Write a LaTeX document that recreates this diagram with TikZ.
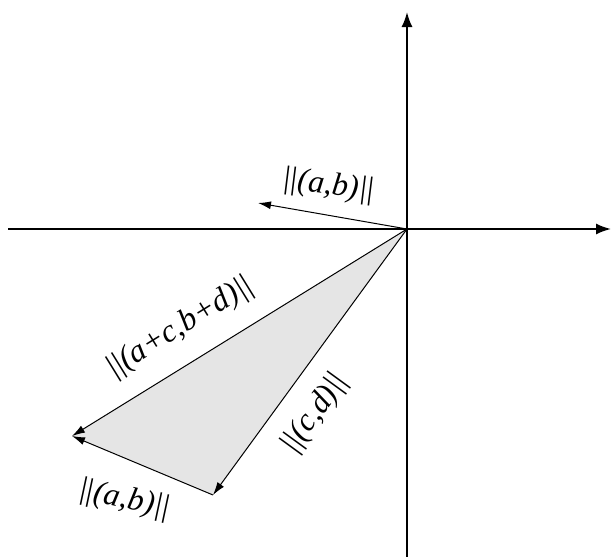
\documentclass[tikz,border=0pt]{standalone}
\usepackage{fontspec}
\setmainfont{Liberation Serif}
\usetikzlibrary{arrows.meta}
\newcommand\nrm{|\kern-0.06em|}
\tikzset{
  axis/.style={line width=1.8pt,-{Latex[length=15pt,width=11pt]}},
  vec/.style={line width=1pt,-{Latex[length=13pt,width=8pt]}},
  lab/.style={font=\fontsize{32}{36}\selectfont\itshape,inner sep=1pt}
}
\begin{document}
\begin{tikzpicture}[x=1pt,y=-1pt]
\useasboundingbox (0,0) rectangle (611,557);
\coordinate (O) at (407,229);
\coordinate (P) at (213,495);
\coordinate (Q) at (72,436);
\coordinate (R) at (258,203);
\coordinate (xl) at (8,229);
\coordinate (xr) at (611,229);
\coordinate (yb) at (407,557);
\coordinate (yt) at (407,12);
\fill[gray!20] (O) -- (P) -- (Q) -- cycle;
\draw[axis] (xl) -- (xr);
\draw[axis] (yb) -- (yt);
\draw[vec] (O) -- (R);
\draw[vec] (O) -- (P);
\draw[vec] (P) -- (Q);
\draw[vec] (O) -- (Q);
\node[lab,rotate=-7] (l1) at (328,186) {\nrm(a,b)\nrm};
\node[lab,rotate=31.7] (l2) at (180,328) {\nrm(a+c,b+d)\nrm};
\node[lab,rotate=53.9] (l3) at (315,414) {\nrm(c,d)\nrm};
\node[lab,rotate=-12] (l4) at (124,500) {\nrm(a,b)\nrm};
\end{tikzpicture}
\end{document}
